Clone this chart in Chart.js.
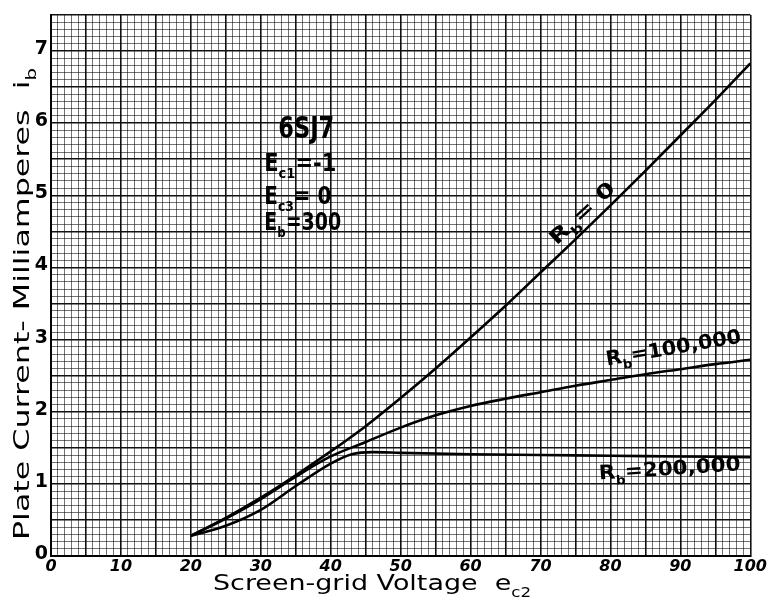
<!DOCTYPE html>
<html>
<head>
<meta charset="utf-8">
<title>6SJ7 screen-grid characteristic</title>
<script src="https://cdn.jsdelivr.net/npm/chart.js@4.4.0/dist/chart.umd.min.js"></script>
<style>
  html, body { margin: 0; padding: 0; background: #fff; }
  #chart { display: block; }
</style>
</head>
<body>
<canvas id="chart" width="768" height="598"></canvas>
<script>
// Screen-grid voltage e_c2 (volts) and plate current i_b (mA)
const voltsRb0 = [20, 25, 30, 35, 40, 45, 50, 55, 60, 65, 70, 75, 80, 85, 90, 95, 100];
const currentRb0 = [0.28, 0.53, 0.81, 1.12, 1.45, 1.8, 2.19, 2.6, 3.03, 3.47, 3.93, 4.39, 4.86, 5.34, 5.83, 6.32, 6.83];

const voltsRb100k = [20, 25, 30, 35, 40, 45, 50, 55, 60, 65, 70, 75, 80, 85, 90, 95, 100];
const currentRb100k = [0.28, 0.52, 0.79, 1.1, 1.38, 1.58, 1.78, 1.95, 2.08, 2.18, 2.27, 2.36, 2.44, 2.52, 2.59, 2.66, 2.72];

const voltsRb200k = [20, 25, 30, 35, 40, 43, 46, 50, 60, 70, 80, 90, 100];
const currentRb200k = [0.28, 0.42, 0.64, 0.97, 1.28, 1.41, 1.44, 1.43, 1.41, 1.4, 1.39, 1.38, 1.37];

// axis ranges / tick steps
const xRange = [0, 100];
const yRange = [0, 7.5];
const xLabelEvery = 10;
const yLabelEvery = 1;

const FONT = '"DejaVu Sans", sans-serif';

function toPoints(xs, ys) {
  return xs.map((v, i) => ({ x: v, y: ys[i] }));
}

// draw text parts (some subscripted) at the current origin, return width
function drawRich(ctx, parts, size, weight, measureOnly) {
  let cx = 0;
  parts.forEach(p => {
    const s = p.sub ? size * 0.62 : size;
    ctx.font = weight + ' ' + s + 'px ' + FONT;
    if (!measureOnly) ctx.fillText(p.t, cx, p.sub ? size * 0.3 : 0);
    cx += ctx.measureText(p.t).width;
  });
  return cx;
}

function placeRich(ctx, parts, px, py, opts) {
  const size = opts.size, weight = opts.weight || 'bold';
  ctx.save();
  ctx.translate(px, py);
  if (opts.angle) ctx.rotate(opts.angle * Math.PI / 180);
  const w = drawRich(ctx, parts, size, weight, true);
  if (opts.width) ctx.scale(opts.width / w, 1);
  ctx.fillStyle = '#000';
  ctx.textBaseline = 'alphabetic';
  ctx.textAlign = 'left';
  drawRich(ctx, parts, size, weight, false);
  ctx.restore();
}

// notes written on the sheet (data coordinates for the anchor)
const notes = [
  { parts: [{ t: '6SJ7' }], x: 32.5, y: 5.8, size: 30, width: 56 },
  { parts: [{ t: 'E' }, { t: 'c1', sub: true }, { t: '=-1' }], x: 30.5, y: 5.34, size: 24, width: 72 },
  { parts: [{ t: 'E' }, { t: 'c3', sub: true }, { t: '= 0' }], x: 30.5, y: 4.88, size: 24, width: 67 },
  { parts: [{ t: 'E' }, { t: 'b', sub: true }, { t: '=300' }], x: 30.5, y: 4.52, size: 24, width: 77 },
  { parts: [{ t: 'R' }, { t: 'b', sub: true }, { t: '= 0' }], x: 72.3, y: 4.3, size: 20, width: 82, angle: -43 },
  { parts: [{ t: 'R' }, { t: 'b', sub: true }, { t: '=100,000' }], x: 79.5, y: 2.64, size: 20, width: 137, angle: -9.7 },
  { parts: [{ t: 'R' }, { t: 'b', sub: true }, { t: '=200,000' }], x: 78.4, y: 1.06, size: 20, width: 142, angle: -3.7 }
];

const notesPlugin = {
  id: 'notes',
  afterDatasetsDraw(chart) {
    const ctx = chart.ctx;
    const xs = chart.scales.x, ys = chart.scales.y;
    notes.forEach(n => {
      placeRich(ctx, n.parts, xs.getPixelForValue(n.x), ys.getPixelForValue(n.y), n);
    });
    // axis titles
    placeRich(ctx, [{ t: 'Screen-grid Voltage  e' }, { t: 'c2', sub: true }], 213, 590,
      { size: 22, weight: 'normal', width: 318 });
    placeRich(ctx, [{ t: 'Plate Current- Milliamperes  i' }, { t: 'b', sub: true }], 29, 540,
      { size: 22, weight: 'normal', width: 472, angle: -90 });
  }
};

function gridColor(every) {
  return c => {
    const v = Math.round(c.tick.value * every);
    return v % 5 === 0 ? '#111' : 'rgba(0,0,0,0.55)';
  };
}
function gridWidth(every) {
  return c => {
    const v = Math.round(c.tick.value * every);
    return v % 5 === 0 ? 1.6 : 1;
  };
}

const lineStyle = {
  borderColor: '#000',
  borderWidth: 2.6,
  pointRadius: 0,
  fill: false,
  cubicInterpolationMode: 'monotone'
};

new Chart(document.getElementById('chart'), {
  type: 'line',
  data: {
    datasets: [
      Object.assign({ label: 'Rb = 0', data: toPoints(voltsRb0, currentRb0) }, lineStyle),
      Object.assign({ label: 'Rb = 100,000', data: toPoints(voltsRb100k, currentRb100k) }, lineStyle),
      Object.assign({ label: 'Rb = 200,000', data: toPoints(voltsRb200k, currentRb200k) }, lineStyle)
    ]
  },
  options: {
    responsive: false,
    animation: false,
    layout: { padding: { top: 15, right: 3, left: 0, bottom: 0 } },
    plugins: { legend: { display: false }, tooltip: { enabled: false } },
    scales: {
      x: {
        type: 'linear',
        min: xRange[0],
        max: xRange[1],
        afterFit(scale) { scale.height = 42; },
        ticks: {
          stepSize: 1,
          autoSkip: false,
          maxRotation: 0,
          padding: 1,
          color: '#000',
          font: { family: FONT, size: 16, weight: 'bold', style: 'italic' },
          callback: v => (v % xLabelEvery === 0 ? v : '')
        },
        grid: { color: gridColor(1), lineWidth: gridWidth(1), drawTicks: false },
        border: { color: '#000', width: 2 }
      },
      y: {
        type: 'linear',
        min: yRange[0],
        max: yRange[1],
        afterFit(scale) { scale.width = 51; },
        ticks: {
          stepSize: 0.1,
          autoSkip: false,
          padding: 3,
          labelOffset: -2,
          color: '#000',
          font: { family: FONT, size: 19, weight: 'bold' },
          callback: v => {
            const r = Math.round(v);
            return Math.abs(v - r) < 1e-6 && r % yLabelEvery === 0 ? r : '';
          }
        },
        grid: { color: gridColor(10), lineWidth: gridWidth(10), drawTicks: false },
        border: { color: '#000', width: 2 }
      }
    }
  },
  plugins: [notesPlugin]
});
</script>
</body>
</html>
